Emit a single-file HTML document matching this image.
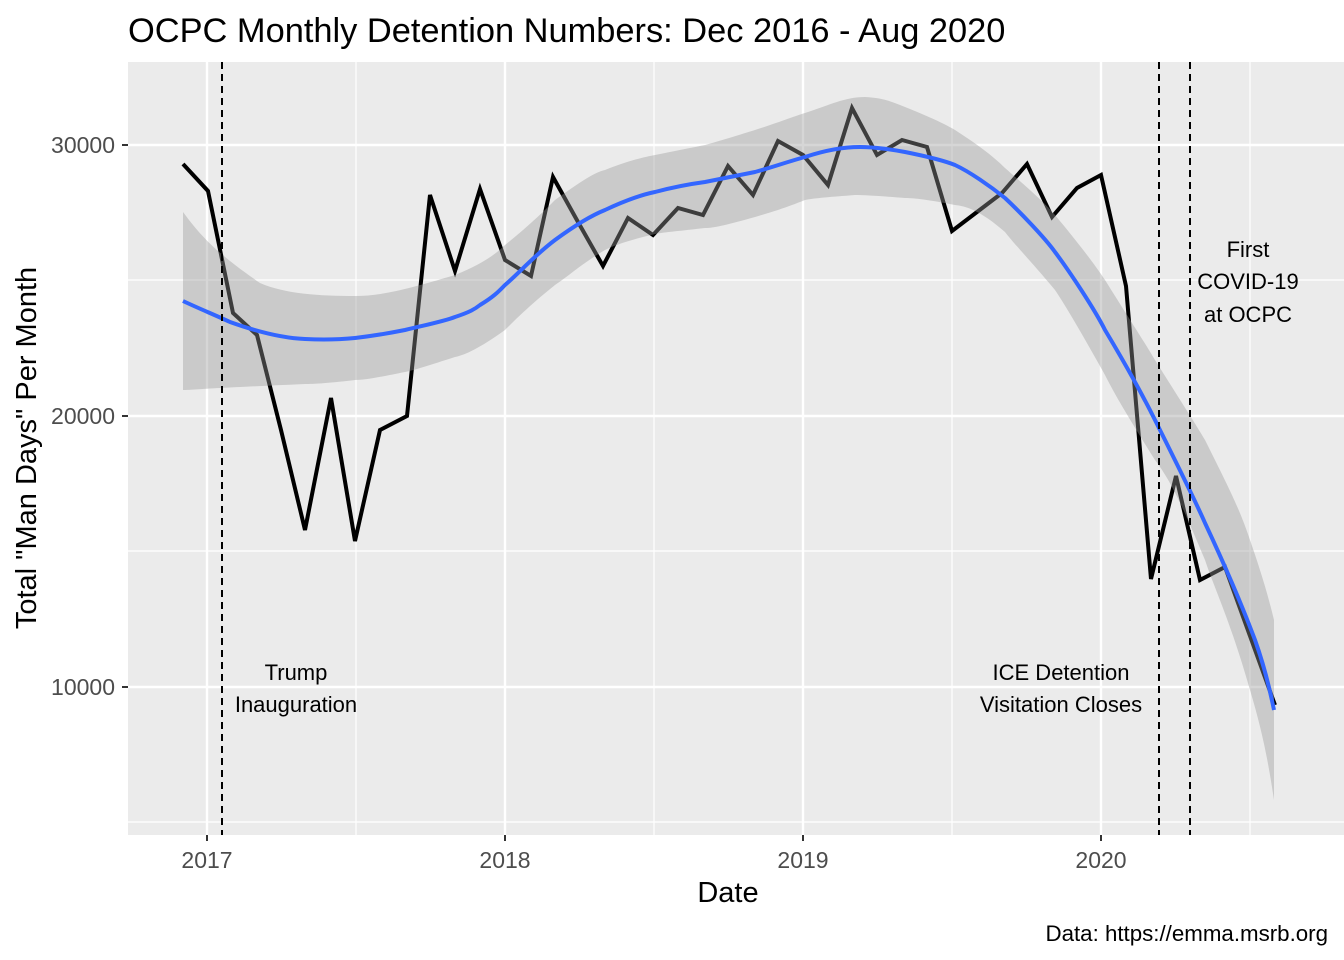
<!DOCTYPE html>
<html><head><meta charset="utf-8"><style>body{margin:0;background:#fff}svg{display:block}text{font-family:"Liberation Sans",Arial,sans-serif}</style></head><body>
<svg width="1344" height="960" viewBox="0 0 1344 960">
<rect x="128" y="62" width="1216" height="773" fill="#ebebeb"/>
<g stroke="#fff" stroke-width="1.2">
<line x1="128" x2="1344" y1="280" y2="280"/><line x1="128" x2="1344" y1="551" y2="551"/><line x1="128" x2="1344" y1="822" y2="822"/>
<line y1="62" y2="835" x1="356" x2="356"/><line y1="62" y2="835" x1="654" x2="654"/><line y1="62" y2="835" x1="952" x2="952"/><line y1="62" y2="835" x1="1250" x2="1250"/>
</g>
<g stroke="#fff" stroke-width="2.4">
<line x1="128" x2="1344" y1="145" y2="145"/><line x1="128" x2="1344" y1="416" y2="416"/><line x1="128" x2="1344" y1="687" y2="687"/>
<line y1="62" y2="835" x1="207" x2="207"/><line y1="62" y2="835" x1="505" x2="505"/><line y1="62" y2="835" x1="803" x2="803"/><line y1="62" y2="835" x1="1101" x2="1101"/>
</g>
<polyline fill="none" stroke="#000" stroke-width="4" stroke-linejoin="miter" points="183,164 208,191 233,313 257,335 281,430 305,530 331,398 355,541 380,430 407,416 430,195 455,271 480,189 505,260 531,276 553,177 578,222 603,266 628,218 653,235 678,208 703,215 728,166 753,195 778,141 803,155 828,185 852,108 877,155 902,140 927,147 952,231 977,212 1002,193 1027,164 1052,217 1077,188 1101,175 1126,286 1151,579 1176,476 1200,580 1225,567 1250,636 1275,705"/>
<path fill="#999" fill-opacity="0.4" d="M183,212 C200,235 215,252 260,283 C285,294 320,296 355,296 C380,296 405,290 455,275 C480,265 495,255 505,245 C530,225 545,210 555,200 C580,182 595,172 605,170 C630,160 645,157 655,155 C680,150 695,147 705,145 C730,138 745,133 755,130 C780,122 795,116 805,113 C830,105 845,97 865,97 C885,98 895,103 905,107 C930,117 945,124 955,130 C980,146 995,158 1005,168 C1030,190 1045,203 1055,215 C1080,245 1095,265 1105,280 C1130,320 1145,343 1155,360 C1180,400 1195,423 1205,440 C1230,490 1240,510 1250,540 C1262,575 1268,595 1274,620 L1274,800 C1268,760 1262,730 1250,690 C1230,620 1215,590 1205,560 C1180,500 1170,480 1155,460 C1130,420 1115,395 1105,375 C1080,330 1065,305 1055,290 C1030,260 1015,245 1005,232 C980,210 965,206 955,205 C930,200 915,198 905,198 C880,196 865,195 855,195 C830,197 815,198 805,200 C780,210 765,214 755,217 C730,224 715,228 705,228 C680,231 665,232 655,234 C630,240 615,245 605,250 C580,265 570,275 555,285 C530,305 515,320 505,330 C480,348 465,355 455,357 C430,365 415,370 405,372 C380,377 365,380 355,380 C330,383 315,384 305,384 C260,386 240,387 220,388 C200,389 190,390 183,390 Z"/>
<path fill="none" stroke="#3366ff" stroke-width="4" d="M183,301 C200,309 215,315 230,322 C255,331 280,338 305,339 C325,340 345,339 355,338 C380,335 395,332 405,330 C430,324 445,321 455,317 C470,312 475,309 480,305 C495,296 500,290 505,285 C520,272 535,255 555,240 C570,229 590,216 605,210 C620,203 640,195 655,192 C670,188 690,184 705,182 C725,178 740,175 755,172 C770,168 790,161 805,157 C820,152 840,147 860,147 C875,147 895,150 905,152 C925,156 945,161 955,165 C970,172 990,186 1005,198 C1020,212 1045,238 1055,252 C1070,272 1095,310 1105,330 C1120,355 1140,390 1155,420 C1170,450 1195,500 1205,523 C1220,555 1240,600 1255,640 C1265,668 1270,690 1274,710"/>
<g stroke="#000" stroke-width="2" stroke-dasharray="7,5">
<line x1="222" x2="222" y1="62" y2="835"/><line x1="1159" x2="1159" y1="62" y2="835"/><line x1="1190" x2="1190" y1="62" y2="835"/>
</g>
<g font-size="22" text-anchor="middle" fill="#000">
<text x="296" y="680">Trump</text><text x="296" y="712">Inauguration</text>
<text x="1061" y="680">ICE Detention</text><text x="1061" y="712">Visitation Closes</text>
<text x="1248" y="257">First</text><text x="1248" y="289">COVID-19</text><text x="1248" y="322">at OCPC</text>
</g>
<g stroke="#333" stroke-width="2">
<line x1="122" x2="128" y1="145" y2="145"/><line x1="122" x2="128" y1="416" y2="416"/><line x1="122" x2="128" y1="687" y2="687"/>
<line y1="835" y2="841" x1="207" x2="207"/><line y1="835" y2="841" x1="505" x2="505"/><line y1="835" y2="841" x1="803" x2="803"/><line y1="835" y2="841" x1="1101" x2="1101"/>
</g>
<g font-size="23" fill="#4d4d4d">
<g text-anchor="end"><text x="115" y="153">30000</text><text x="115" y="424">20000</text><text x="115" y="695">10000</text></g>
<g text-anchor="middle"><text x="207" y="868">2017</text><text x="505" y="868">2018</text><text x="803" y="868">2019</text><text x="1101" y="868">2020</text></g>
</g>
<text x="728" y="902" font-size="29" text-anchor="middle">Date</text>
<text transform="translate(36,448) rotate(-90)" font-size="29" text-anchor="middle">Total "Man Days" Per Month</text>
<text x="128" y="42" font-size="34.4">OCPC Monthly Detention Numbers: Dec 2016 - Aug 2020</text>
<text x="1328" y="941" font-size="22.3" text-anchor="end">Data: https://emma.msrb.org</text>
</svg>
</body></html>
